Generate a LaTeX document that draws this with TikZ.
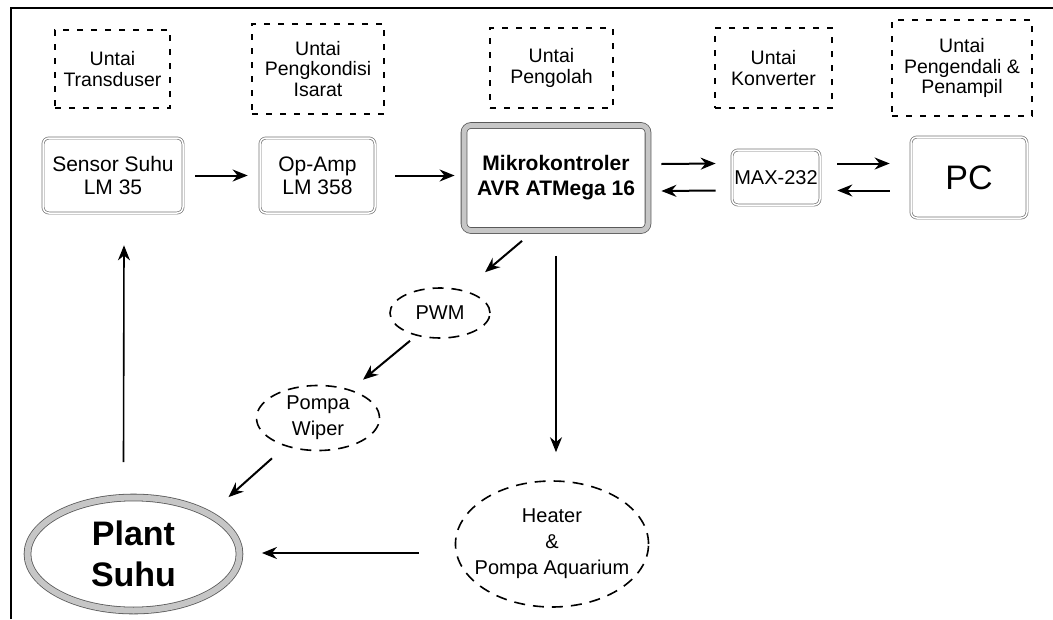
\documentclass[tikz,border=0pt]{standalone}
\usepackage{fontspec}
\setmainfont{Liberation Sans}
\usetikzlibrary{shapes.geometric,arrows.meta,positioning}

\begin{document}
\begin{tikzpicture}[
    x=1pt, y=-1pt,
    >=Stealth,
    untai/.style={rectangle, draw, line width=1.5pt, dash pattern=on 6pt off 8pt,
                  inner sep=0pt, align=center,
                  font=\fontsize{19.5}{20.5}\selectfont},
    blok/.style={rectangle, draw=black!55, line width=0.7pt, double=white,
                 double distance=1.5pt, rounded corners=6pt, inner sep=0pt,
                 align=center, font=\fontsize{21}{23}\selectfont},
    mcu/.style={rectangle, draw=black!65, line width=0.8pt, double=gray!45,
                double distance=5pt, rounded corners=7pt, inner sep=0pt,
                align=center, font=\bfseries\fontsize{21}{25}\selectfont},
    oval/.style={ellipse, draw, line width=1.6pt, dash pattern=on 11pt off 8pt,
                 inner sep=0pt, align=center, font=\fontsize{20}{26}\selectfont},
    plant/.style={ellipse, draw=black!65, line width=0.8pt, double=gray!45,
                  double distance=6pt, inner sep=0pt, align=center,
                  font=\bfseries\fontsize{34}{41}\selectfont},
    arr/.style={-{Stealth[length=15pt,width=12pt]}, line width=2pt}
  ]
    \useasboundingbox (0,0) rectangle (1053,619);

    %--- frame ---
    \draw[line width=2.2pt] (11,619) -- (11,8) -- (1053,8);

    %--- labels of the stages ---
    \node[untai, minimum width=115, minimum height=78] (uTrans) at (112.5,69)
         {Untai\\Transduser};
    \node[untai, minimum width=132, minimum height=90] (uKond) at (318,69)
         {Untai\\Pengkondisi\\Isarat};
    \node[untai, minimum width=123, minimum height=80] (uOlah) at (551.5,68)
         {Untai\\Pengolah};
    \node[untai, minimum width=117, minimum height=80] (uKonv) at (773.5,68)
         {Untai\\Konverter};
    \node[untai, minimum width=140, minimum height=96] (uKend) at (962,68)
         {Untai\\Pengendali \&\\Penampil};

    %--- blocks ---
    \node[blok, minimum width=140, minimum height=75] (sensor) at (113,175.5)
         {Sensor Suhu\\LM 35};
    \node[blok, minimum width=115, minimum height=75] (opamp) at (317.5,175.5)
         {Op-Amp\\LM 358};
    \node[mcu, minimum width=184, minimum height=105] (mikro) at (556,178)
         {Mikrokontroler\\AVR ATMega 16};
    \node[blok, minimum width=88, minimum height=55,
          font=\fontsize{20}{23}\selectfont] (max) at (776,177.5) {MAX-232};
    \node[blok, minimum width=116, minimum height=81,
          font=\fontsize{34}{36}\selectfont] (pc) at (969,177.5) {PC};

    \node[oval, minimum width=100, minimum height=50] (pwm) at (440,313) {PWM};
    \node[oval, minimum width=123, minimum height=65] (wiper) at (318,418)
         {Pompa\\Wiper};
    \node[oval, minimum width=193, minimum height=126, inner xsep=-9pt]
         (heater) at (552,544) {Heater\\\&\\Pompa Aquarium};
    \node[plant, minimum width=212, minimum height=113] (suhu) at (133.5,554)
         {Plant\\Suhu};

    %--- arrows ---
    \draw[arr, shorten <=12pt, shorten >=12pt] (sensor) -- (opamp);
    \draw[arr, shorten <=20pt, shorten >=9pt] (opamp) -- (mikro.west |- opamp);
    \draw[arr] ([shift={(13,-14)}]mikro.east) -- ([shift={(-16,-14)}]max.west);
    \draw[arr] ([shift={(-16,13)}]max.west) -- ([shift={(13,13)}]mikro.east);
    \draw[arr] ([shift={(17,-14)}]max.east) -- ([shift={(-21,-14)}]pc.west);
    \draw[arr] ([shift={(-21,13)}]pc.west) -- ([shift={(17,13)}]max.east);

    \draw[arr] ([shift={(-34,10)}]mikro.south) -- ([shift={(45,-15)}]pwm.north);
    \draw[arr] ([shift={(-30,2)}]pwm.south) -- ([shift={(45,-5)}]wiper.north);
    \draw[arr] ([shift={(-46,7)}]wiper.south) -- ([shift={(95,0)}]suhu.north);
    \draw[arr, line width=1.6pt, shorten <=25pt, shorten >=28pt]
         (mikro.south) -- (mikro.south |- heater.north);
    \draw[arr, shorten <=36pt, shorten >=22pt] ([yshift=-9pt]heater.west)
         -- ([yshift=-9pt]heater.west -| suhu.east);
    \draw[arr, line width=1.6pt] ([shift={(-10,-35)}]suhu.north)
         -- ([shift={(11,32)}]sensor.south);
\end{tikzpicture}
\end{document}
